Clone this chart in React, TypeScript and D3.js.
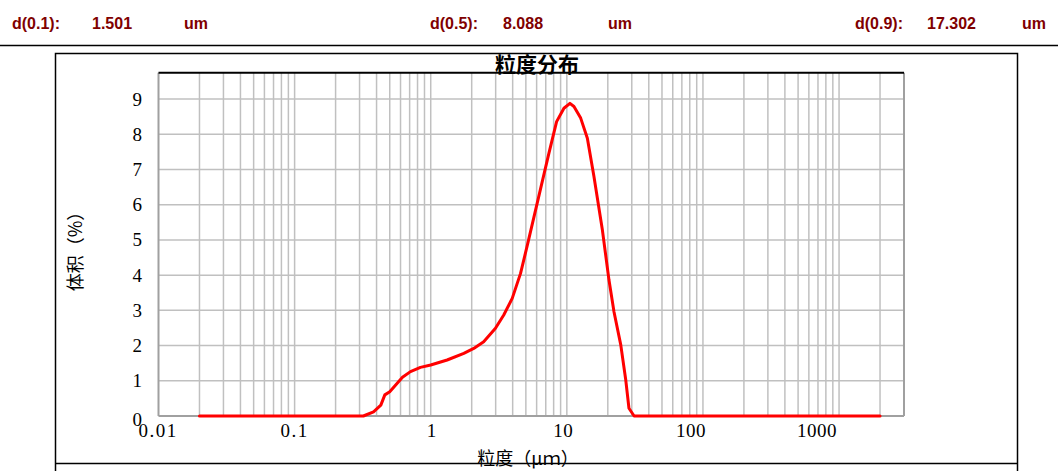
import React from 'react';
import * as d3 from 'd3';

// header summary values
const headerLabels = ['d(0.1):', 'd(0.5):', 'd(0.9):'];
const headerValues = ['1.501', '8.088', '17.302'];
const headerUnit = 'um';

// distribution curve (size in um, volume %)
const sizes = [
  0.02, 0.32, 0.38, 0.43, 0.46, 0.5, 0.62, 0.71, 0.84, 1.0, 1.32, 1.75, 2.07, 2.45, 2.99, 3.44,
  3.97, 4.57, 5.2, 6.41, 7.38, 8.41, 9.52, 10.54, 11.28, 12.64, 14.15, 15.82, 18.25, 20.4,
  22.2, 24.9, 27.1, 28.6, 31.2, 2000,
];
const volumes = [
  0, 0, 0.12, 0.31, 0.6, 0.69, 1.1, 1.26, 1.38, 1.45, 1.59, 1.78, 1.92, 2.11, 2.49, 2.87,
  3.34, 4.05, 4.95, 6.45, 7.46, 8.36, 8.74, 8.88, 8.79, 8.46, 7.89, 6.8, 5.28, 3.86,
  2.96, 2.02, 1.02, 0.22, 0, 0,
];

const xTickValues = [0.01, 0.1, 1, 10, 100, 1000];
const xTickLabels = ['0.01', '0.1', '1', '10', '100', '1000'];
const yTickValues = [0, 1, 2, 3, 4, 5, 6, 7, 8, 9];

const title = '粒度分布';
const xTitle = '粒度（μｍ）';
const yTitle = '体积（%）';

export default function App() {
  const W = 1058;
  const H = 471;
  const left = 158.5, right = 904, top = 72.7, bottom = 416;

  const x = d3.scaleLog().domain([0.01, 3000]).range([left, right]);
  const y = d3.scaleLinear().domain([0, 9.75]).range([bottom, top]);

  const grid: number[] = [];
  for (let k = -2; k <= 3; k++) {
    for (let m = 1; m <= 9; m++) {
      const v = m * Math.pow(10, k);
      if (v > 0.0100001 && v < 2999) grid.push(v);
    }
  }

  const pts = sizes.map((s, i) => [s, volumes[i]] as [number, number]);
  const line = d3.line<[number, number]>()
    .x(d => x(d[0]))
    .y(d => y(d[1]));

  const labelNudge = [-0.5, 0, 1, -3.5, -12, -22];
  const serif = '"Liberation Serif", "DejaVu Serif", "Noto Sans CJK SC", serif';
  const cjk = '"Noto Sans CJK SC", "Liberation Serif", serif';
  const red = '#800000';
  const hx = [[12, 92, 184], [430, 503, 608], [855, 927, 1022]];

  return (
    <svg width={W} height={H} style={{ position: 'absolute', left: 0, top: 0, background: '#fff' }}>
      <rect x={0} y={0} width={W} height={H} fill="#fff" />
      {headerLabels.map((lab, i) => (
        <g key={lab} fontFamily='"Liberation Sans", Arial, sans-serif' fontWeight="bold" fontSize={16} fill={red}>
          <text x={hx[i][0]} y={29}>{lab}</text>
          <text x={hx[i][1]} y={29}>{headerValues[i]}</text>
          <text x={hx[i][2]} y={29}>{headerUnit}</text>
        </g>
      ))}
      <line x1={0} x2={W} y1={45.5} y2={45.5} stroke="#000" strokeWidth={1.5} />

      {/* outer frame */}
      <rect x={55.5} y={53.5} width={962} height={430} fill="none" stroke="#000" strokeWidth={1.5} />
      <line x1={55.5} x2={1017.5} y1={463.5} y2={463.5} stroke="#000" strokeWidth={1.5} />

      {/* grid */}
      {grid.map(v => (
        <line key={'gx' + v} x1={x(v)} x2={x(v)} y1={top} y2={bottom} stroke="#c0c0c0" strokeWidth={1.5} />
      ))}
      {yTickValues.filter(v => v > 0).map(v => (
        <line key={'gy' + v} x1={left} x2={right} y1={y(v)} y2={y(v)} stroke="#c0c0c0" strokeWidth={1.5} />
      ))}
      {/* plot frame */}
      <line x1={left} x2={left} y1={top} y2={bottom} stroke="#a0a0a0" strokeWidth={2} />
      <line x1={right} x2={right} y1={top} y2={bottom} stroke="#a0a0a0" strokeWidth={2} />
      <line x1={left} x2={right} y1={bottom} y2={bottom} stroke="#a0a0a0" strokeWidth={2} />
      <line x1={left} x2={right} y1={top} y2={top} stroke="#000" strokeWidth={2} />

      <path d={line(pts) || ''} fill="none" stroke="#ff0000" strokeWidth={3} strokeLinejoin="round" strokeLinecap="round" />

      {/* axes labels */}
      {yTickValues.map(v => (
        <text key={'yt' + v} x={142} y={y(v) + (v === 0 ? 10 : 6.5)} textAnchor="end" fontFamily={serif} fontSize={19} fill="#000">
          {v}
        </text>
      ))}
      {xTickValues.map((v, i) => (
        <text key={'xt' + v} x={x(v) + labelNudge[i]} y={437} textAnchor="middle" fontFamily={serif} fontSize={19} letterSpacing={i === 0 || i === 1 ? 1.5 : 0.5} fill="#000">
          {xTickLabels[i]}
        </text>
      ))}
      <text x={537} y={72} textAnchor="middle" fontFamily={cjk} fontWeight="bold" fontSize={21} fill="#000">{title}</text>
      <text x={528} y={465} textAnchor="middle" fontFamily={cjk} fontSize={18} fill="#000">{xTitle}</text>
      <text transform="translate(82,247) rotate(-90)" textAnchor="middle" fontFamily={cjk} fontSize={18} fill="#000">{yTitle}</text>
    </svg>
  );
}
